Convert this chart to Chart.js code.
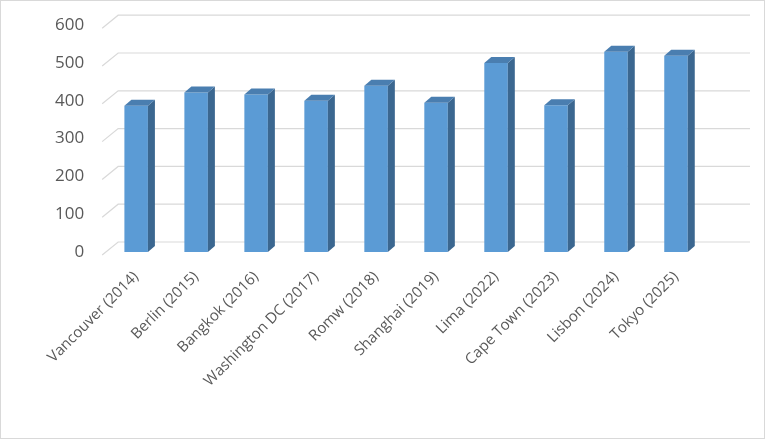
<!DOCTYPE html>
<html>
<head>
<meta charset="utf-8">
<script src="https://cdn.jsdelivr.net/npm/chart.js@4"></script>
<style>
  body { margin: 0; background: #fff; }
  #wrap { position: relative; width: 763px; height: 437px; border: 1px solid #d9d9d9; }
</style>
</head>
<body>
<div id="wrap"><canvas id="chart"></canvas></div>
<script>
const categories = ['Vancouver (2014)', 'Berlin (2015)', 'Bangkok (2016)', 'Washington DC (2017)', 'Romw (2018)',
  'Shanghai (2019)', 'Lima (2022)', 'Cape Town (2023)', 'Lisbon (2024)', 'Tokyo (2025)'];
const values = [387, 422, 417, 400, 440, 395, 500, 388, 530, 519];
const yTicks = [0, 100, 200, 300, 400, 500, 600];

const DX = 7, DY = 6;

// 3D effect: back gridlines and bar side/top faces
const bar3d = {
  id: 'bar3d',
  beforeDatasetsDraw(chart) {
    const ctx = chart.ctx, y = chart.scales.y, area = chart.chartArea;
    ctx.save();
    ctx.strokeStyle = '#d9d9d9';
    ctx.lineWidth = 1.2;
    yTicks.forEach(v => {
      const py = y.getPixelForValue(v);
      ctx.beginPath();
      ctx.moveTo(area.left - 4, py + 3);
      ctx.lineTo(area.left + 12, py - 10);
      ctx.lineTo(chart.width - 14, py - 10);
      ctx.stroke();
    });
    ctx.restore();
  },
  afterDatasetsDraw(chart) {
    const ctx = chart.ctx;
    ctx.save();
    chart.getDatasetMeta(0).data.forEach(bar => {
      const l = bar.x - bar.width / 2, r = bar.x + bar.width / 2;
      const t = bar.y, b = bar.base;
      ctx.fillStyle = '#3b6790';
      ctx.beginPath();
      ctx.moveTo(r, t); ctx.lineTo(r + DX, t - DY); ctx.lineTo(r + DX, b - DY); ctx.lineTo(r, b);
      ctx.closePath(); ctx.fill();
      ctx.fillStyle = '#4a7eb0';
      ctx.beginPath();
      ctx.moveTo(l, t); ctx.lineTo(l + DX, t - DY); ctx.lineTo(r + DX, t - DY); ctx.lineTo(r, t);
      ctx.closePath(); ctx.fill();
    });
    ctx.restore();
  }
};

new Chart(document.getElementById('chart'), {
  type: 'bar',
  data: {
    labels: categories,
    datasets: [{
      data: values,
      backgroundColor: '#5b9bd5',
      barPercentage: 0.8,
      categoryPercentage: 0.49
    }]
  },
  options: {
    responsive: true,
    maintainAspectRatio: false,
    animation: false,
    layout: { padding: { top: 14, right: 58, left: 40, bottom: 40 } },
    plugins: { legend: { display: false }, tooltip: { enabled: false } },
    scales: {
      x: {
        grid: { display: false },
        border: { display: false },
        ticks: {
          color: '#595959', font: { family: 'Open Sans', size: 15 },
          maxRotation: 45, minRotation: 45, padding: 8
        }
      },
      y: {
        min: 0, max: 600,
        grid: { display: false },
        border: { display: false },
        afterBuildTicks: s => { s.ticks = yTicks.map(v => ({ value: v })); },
        ticks: { color: '#595959', font: { family: 'Open Sans', size: 17 }, padding: 14 }
      }
    }
  },
  plugins: [bar3d]
});
</script>
</body>
</html>
